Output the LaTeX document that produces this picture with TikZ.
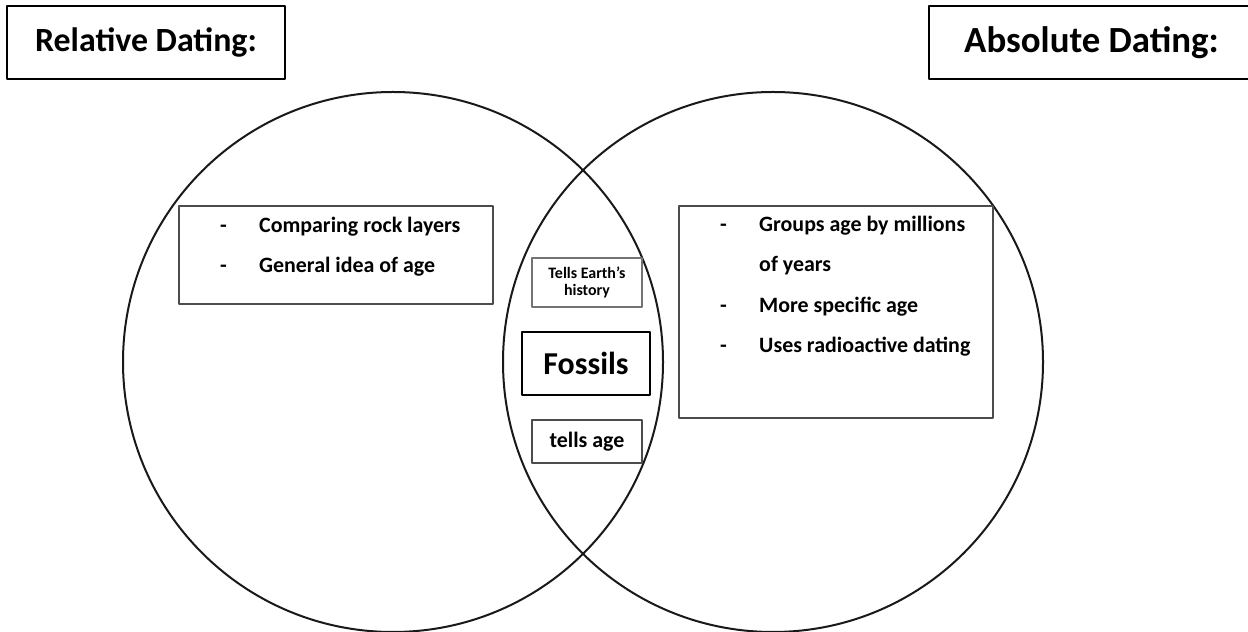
\documentclass[tikz,border=0pt]{standalone}
\usepackage{fontspec}
\setmainfont{Carlito}
\begin{document}
\begin{tikzpicture}[>=latex,line join=bevel,
  headbox/.style={draw=black,line width=1.8bp,inner sep=0pt,font=\fontsize{34}{40}\selectfont\bfseries},
  listbox/.style={draw=black!70,line width=1.5bp,inner sep=0pt},
  item/.style={anchor=base west,inner sep=0pt,font=\fontsize{22}{26}\selectfont\bfseries},
  lensbox/.style={draw=black!55,line width=1.3bp,inner sep=0pt,align=center},]
%%
\useasboundingbox (0bp,0bp) rectangle (1248bp,632bp);
\draw [black!90,line width=2bp] (393bp,270bp) circle (270bp);
\draw [black!90,line width=2bp] (773bp,270bp) circle (270bp);
%
\node (node_relhead) at (146.0bp,589.5bp) [headbox,minimum width=278bp,minimum height=73bp] {Relative Dating:};
  \node (node_abshead) at (1091.5bp,589.5bp) [headbox,minimum width=325bp,minimum height=73bp,font=\fontsize{37}{40}\selectfont\bfseries] {Absolute Dating:};
%
\node (node_rellist) at (336.0bp,377.0bp) [listbox,minimum width=314bp,minimum height=98bp] {};
  \node (node_rel1) at (220.0bp,399.0bp) [item] {\makebox[39bp][l]{-}Comparing rock layers};
  \node (node_rel2) at (220.0bp,359.0bp) [item] {\makebox[39bp][l]{-}General idea of age};
%
\node (node_abslist) at (836.0bp,320.0bp) [listbox,minimum width=314bp,minimum height=212bp] {};
  \node (node_abs1) at (720.0bp,400.0bp) [item] {\makebox[39bp][l]{-}Groups age by millions};
  \node (node_abs2) at (720.0bp,360.0bp) [item] {\makebox[39bp][l]{}of years};
  \node (node_abs3) at (720.0bp,319.0bp) [item] {\makebox[39bp][l]{-}More specific age};
  \node (node_abs4) at (720.0bp,279.0bp) [item] {\makebox[39bp][l]{-}Uses radioactive dating};
%
\node (node_history) at (587.0bp,349.5bp) [lensbox,minimum width=110bp,minimum height=49bp,font=\fontsize{16}{17}\selectfont\bfseries] {Tells Earth’s\\history};
  \node (node_fossils) at (586.0bp,268.5bp) [lensbox,draw=black,line width=1.8bp,minimum width=128bp,minimum height=63bp,font=\fontsize{32}{36}\selectfont\bfseries] {Fossils};
  \node (node_age) at (587.0bp,190.5bp) [lensbox,draw=black!70,minimum width=110bp,minimum height=43bp,font=\fontsize{22}{26}\selectfont\bfseries] {tells age};
%
\end{tikzpicture}
\end{document}
